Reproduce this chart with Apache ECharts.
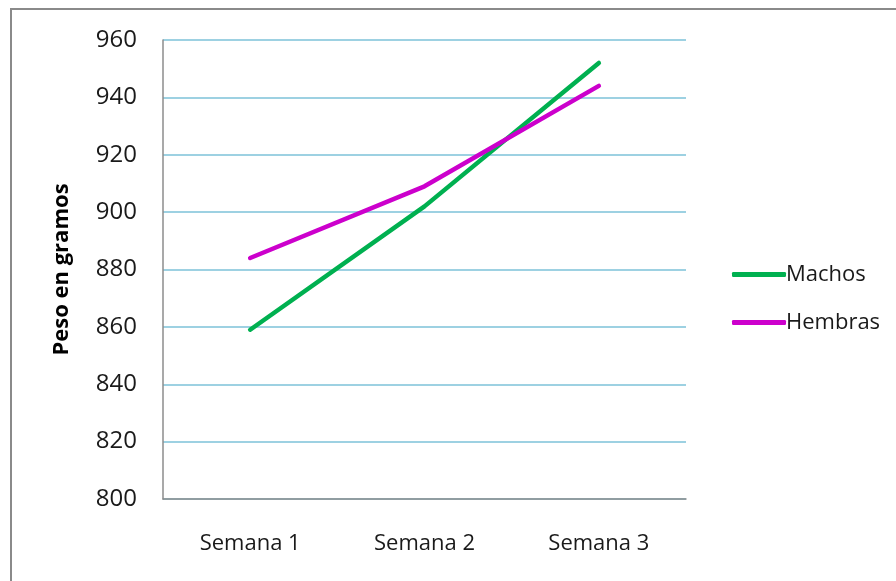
<!DOCTYPE html>
<html>
<head>
<meta charset="utf-8">
<script src="https://cdn.jsdelivr.net/npm/echarts@6/dist/echarts.min.js"></script>
<style>
  html, body { margin: 0; padding: 0; background: #ffffff; }
  #chart { width: 896px; height: 581px; }
</style>
</head>
<body>
<div id="chart"></div>
<script>
// Weekly weight data (grams)
const semanas = ['Semana 1', 'Semana 2', 'Semana 3'];
const machos = [859, 902, 952];
const hembras = [884, 909, 944];
const yTicks = { min: 800, max: 960, interval: 20 };

const font = '"Open Sans", "Noto Sans", sans-serif';
const chart = echarts.init(document.getElementById('chart'), null, { renderer: 'canvas' });

chart.setOption({
  backgroundColor: '#ffffff',
  animation: false,
  graphic: [{
    type: 'rect',
    shape: { x: 11, y: 9, width: 900, height: 600 },
    style: { fill: 'none', stroke: '#8a8a8a', lineWidth: 2 },
    silent: true
  }],
  grid: { left: 163, top: 40, width: 523, height: 459 },
  legend: {
    orient: 'vertical',
    left: 727,
    top: 258,
    itemGap: 25,
    itemWidth: 54,
    itemHeight: 5,
    icon: 'roundRect',
    textStyle: { fontFamily: font, fontSize: 22, lineHeight: 23, color: '#1a1a1a', padding: [0, 0, 0, -5] },
    data: ['Machos', 'Hembras']
  },
  xAxis: {
    type: 'category',
    data: semanas,
    boundaryGap: true,
    axisLine: { lineStyle: { color: '#8c8c8c', width: 1.5 } },
    axisTick: { show: false },
    axisLabel: { fontFamily: font, fontSize: 22, color: '#1a1a1a', margin: 34 }
  },
  yAxis: {
    type: 'value',
    min: yTicks.min,
    max: yTicks.max,
    interval: yTicks.interval,
    name: 'Peso en gramos',
    nameLocation: 'middle',
    nameGap: 90,
    nameRotate: 90,
    nameTextStyle: { fontFamily: font, fontSize: 22, fontWeight: 'bold', color: '#000000' },
    axisLine: { show: true, lineStyle: { color: '#8c8c8c', width: 1.5 } },
    axisTick: { show: false },
    axisLabel: { fontFamily: font, fontSize: 24, color: '#1a1a1a', margin: 26 },
    splitLine: { lineStyle: { color: '#7cc2d8', width: 1.5 } }
  },
  series: [
    {
      name: 'Machos',
      type: 'line',
      data: machos,
      symbol: 'none',
      color: '#00b050',
      lineStyle: { color: '#00b050', width: 4.5, cap: 'round' }
    },
    {
      name: 'Hembras',
      type: 'line',
      data: hembras,
      symbol: 'none',
      color: '#cc00cc',
      lineStyle: { color: '#cc00cc', width: 4.5, cap: 'round' }
    }
  ]
});
</script>
</body>
</html>
